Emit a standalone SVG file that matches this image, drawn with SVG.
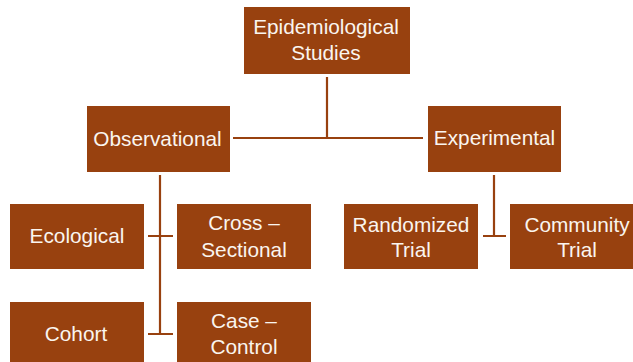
<svg xmlns="http://www.w3.org/2000/svg" width="633" height="362" viewBox="0 0 633 362">
<style>
.box{fill:#98410F}
.t{font-family:"Liberation Sans",Arial,sans-serif;font-size:20.8px;fill:#FAF5EF;text-anchor:middle}
.c{stroke:#98410F;stroke-width:2.2;fill:none}
</style>
<rect width="633" height="362" fill="#fff"/>
<g id="connectors">
<path class="c" d="M327 77V138M233 138H423"/>
<path class="c" d="M160 175V334M148 236H173M148 334H173"/>
<path class="c" d="M494 175V236M483 236H506"/>
</g>
<g id="epi"><rect class="box" x="244" y="7" width="166" height="67"/><text class="t" x="326" y="34">Epidemiological</text><text class="t" x="326" y="60">Studies</text></g>
<g id="obs"><rect class="box" x="87" y="106" width="143" height="66"/><text class="t" x="157.5" y="146">Observational</text></g>
<g id="exp"><rect class="box" x="428" y="106" width="133" height="66"/><text class="t" x="494.5" y="145">Experimental</text></g>
<g id="eco"><rect class="box" x="10" y="204" width="134" height="65"/><text class="t" x="77" y="243">Ecological</text></g>
<g id="cross"><rect class="box" x="177" y="204" width="134" height="65"/><text class="t" x="244" y="230">Cross –</text><text class="t" x="244" y="257">Sectional</text></g>
<g id="cohort"><rect class="box" x="10" y="302" width="134" height="67"/><text class="t" x="76" y="341">Cohort</text></g>
<g id="casecontrol"><rect class="box" x="177" y="302" width="134" height="67"/><text class="t" x="244" y="328">Case –</text><text class="t" x="244" y="354">Control</text></g>
<g id="rand"><rect class="box" x="344" y="204" width="134" height="65"/><text class="t" x="411" y="232">Randomized</text><text class="t" x="411" y="257">Trial</text></g>
<g id="comm"><rect class="box" x="510" y="204" width="134" height="65"/><text class="t" x="577" y="232">Community</text><text class="t" x="577" y="257">Trial</text></g>
</svg>
